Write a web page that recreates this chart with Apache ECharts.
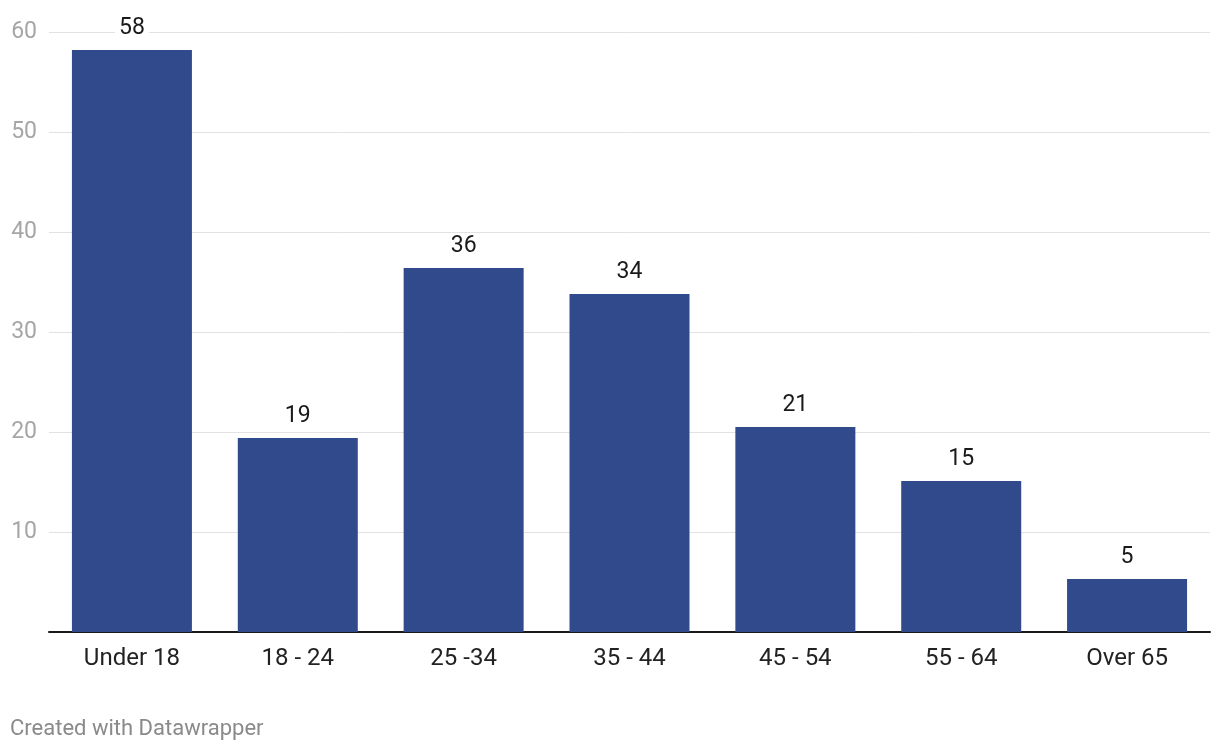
<!DOCTYPE html>
<html><head><meta charset="utf-8">
<script src="https://cdn.jsdelivr.net/npm/echarts@6/dist/echarts.min.js"></script>
<style>html,body{margin:0;padding:0;background:#fff;}#c{width:1220px;height:752px;}</style>
</head><body><div id="c"></div>
<script>
const categories = ["Under 18", "18 - 24", "25 -34", "35 - 44", "45 - 54", "55 - 64", "Over 65"];
const values = [58.2, 19.4, 36.4, 33.8, 20.5, 15.1, 5.3];
const yTicks = [0, 10, 20, 30, 40, 50, 60];

const chart = echarts.init(document.getElementById('c'), null, {renderer: 'canvas'});
chart.setOption({
  animation: false,
  textStyle: {fontFamily: 'Roboto'},
  grid: {left: 49, right: 10, top: 32, bottom: 120, containLabel: false},
  xAxis: {
    type: 'category', data: categories,
    axisLine: {lineStyle: {color: '#1a1a1a', width: 2}},
    axisTick: {show: false},
    axisLabel: {color: '#222', fontSize: 24, fontFamily: 'Roboto', margin: 15}
  },
  yAxis: {
    type: 'value', min: yTicks[0], max: yTicks[yTicks.length - 1], interval: 10,
    axisLine: {show: false}, axisTick: {show: false},
    splitLine: {lineStyle: {color: '#e2e2e2', width: 1}},
    axisLabel: {color: '#a6a6a6', fontSize: 23, fontFamily: 'Roboto', margin: 12,
      formatter: v => v === 0 ? '' : String(v)}
  },
  series: [{
    type: 'bar', data: values, barWidth: 120,
    itemStyle: {color: '#314a8b'},
    label: {show: true, position: 'top', distance: 10, color: '#1a1a1a', fontSize: 23,
      fontFamily: 'Roboto', backgroundColor: '#fff', padding: [0, 4, 0, 4],
      formatter: p => String(Math.round(p.value))}
  }],
  graphic: [{type: 'text', left: 10, top: 718,
    style: {text: 'Created with Datawrapper', fill: '#8a8a8a', fontSize: 22, fontFamily: 'Roboto'}}]
});
</script></body></html>
